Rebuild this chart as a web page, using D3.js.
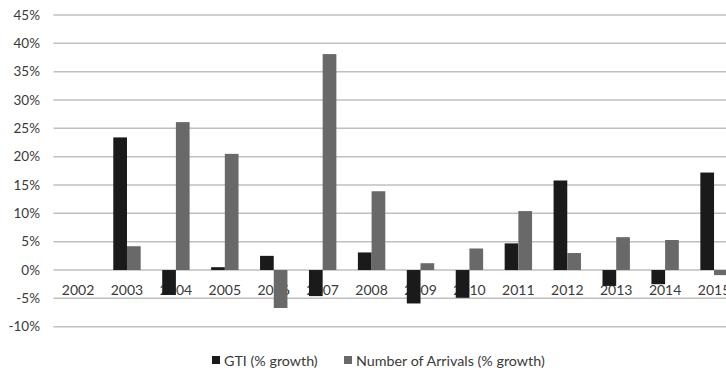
<!DOCTYPE html>
<html lang="en">
<head>
<meta charset="UTF-8">
<title>GTI vs Arrivals</title>
<script src="https://d3js.org/d3.v7.min.js"></script>
<style>
  body { margin: 0; background: #fff; font-family: Lato, "Open Sans", sans-serif; }
  svg { display: block; }
  text { fill: #3a3a3a; }
</style>
</head>
<body>
<svg width="726" height="368"></svg>
<script>
const years = ["2002","2003","2004","2005","2006","2007","2008","2009","2010","2011","2012","2013","2014","2015"];
const gti      = [0, 23.4, -4.4, 0.5, 2.5, -4.6, 3.1, -5.9, -4.9, 4.7, 15.8, -2.8, -2.5, 17.2];
const arrivals = [0, 4.2, 26.1, 20.5, -6.7, 38.1, 13.9, 1.2, 3.8, 10.4, 3.0, 5.8, 5.3, -0.9];
const yTicks = [-10, -5, 0, 5, 10, 15, 20, 25, 30, 35, 40, 45];
const seriesNames = ["GTI (% growth)", "Number of Arrivals (% growth)"];
const colors = ["#1a1a1a", "#696969"];

let svg = d3.select("svg");

// plot runs past the right edge, as in the source image
let x = d3.scaleBand().domain(years).range([53.6, 738.5]).paddingInner(0.44).paddingOuter(0.22);
let y = d3.scaleLinear().domain([-10, 45]).range([326.7, 15]);
let xs = d3.scaleBand().domain([0, 1]).range([0, x.bandwidth()]);

// gridlines
svg.append("g").selectAll("line").data(yTicks).enter().append("line")
    .attr("x1", 53.5).attr("x2", 726)
    .attr("y1", d => y(d)).attr("y2", d => y(d))
    .attr("stroke", "#bfbfbf").attr("stroke-width", 1.5);

// y labels
svg.append("g").selectAll("text").data(yTicks).enter().append("text")
    .attr("x", 40).attr("y", d => y(d)).attr("dy", "0.35em")
    .attr("text-anchor", "end").style("font-size", "13.5px")
    .text(d => d + "%");

// x labels sit below zero line, bars draw over them
svg.append("g").selectAll("text").data(years).enter().append("text")
    .attr("x", d => x(d) + x.bandwidth() / 2).attr("y", 290).attr("dy", "0.35em")
    .attr("text-anchor", "middle").style("font-size", "14px")
    .text(d => d);

[gti, arrivals].forEach((vals, s) => {
    svg.append("g").selectAll("rect").data(vals).enter().append("rect")
        .attr("x", (d, i) => x(years[i]) + xs(s))
        .attr("width", xs.bandwidth())
        .attr("y", d => y(Math.max(0, d)))
        .attr("height", d => Math.abs(y(d) - y(0)))
        .attr("fill", colors[s]);
});

// legend
let legend = svg.append("g");
let lx = [212, 344];
seriesNames.forEach((name, i) => {
    legend.append("rect").attr("x", lx[i]).attr("y", 356).attr("width", 8).attr("height", 8).attr("fill", colors[i]);
    legend.append("text").attr("x", lx[i] + 12).attr("y", 360.5).attr("dy", "0.35em")
        .style("font-size", "14.3px").text(name);
});
</script>
</body>
</html>
